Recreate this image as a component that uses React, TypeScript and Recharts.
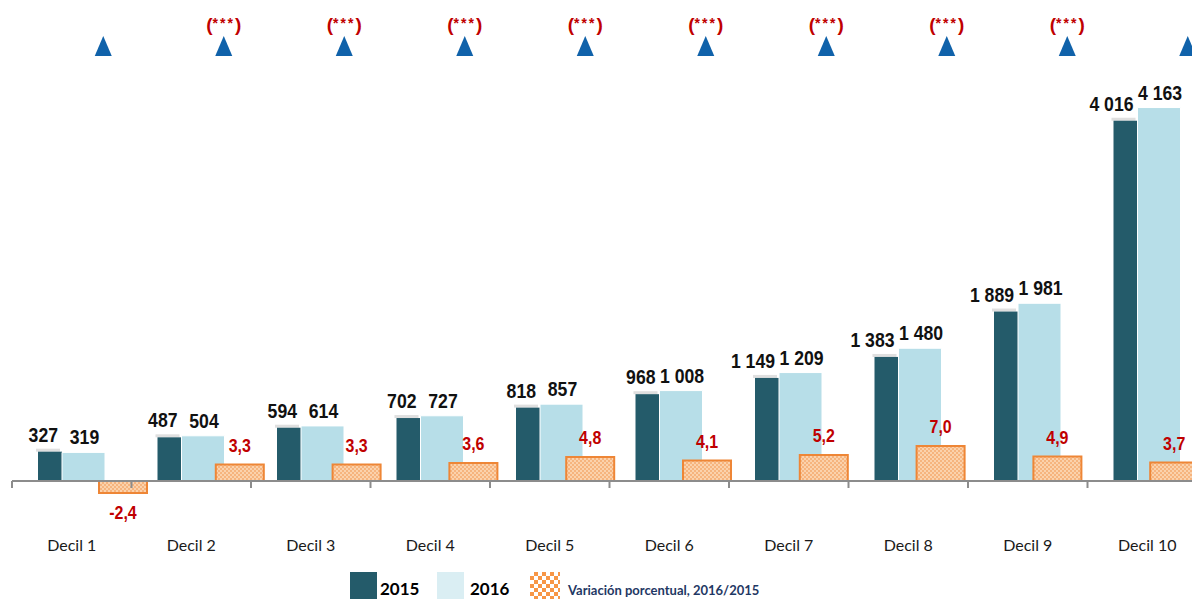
import {
  Bar,
  ComposedChart,
  LabelList,
  Legend,
  ReferenceLine,
  XAxis,
  YAxis,
} from "recharts";

const deciles = [
  "Decil 1",
  "Decil 2",
  "Decil 3",
  "Decil 4",
  "Decil 5",
  "Decil 6",
  "Decil 7",
  "Decil 8",
  "Decil 9",
  "Decil 10",
];
const values2015 = [327, 487, 594, 702, 818, 968, 1149, 1383, 1889, 4016];
const values2016 = [319, 504, 614, 727, 857, 1008, 1209, 1480, 1981, 4163];
const variation = [-2.4, 3.3, 3.3, 3.6, 4.8, 4.1, 5.2, 7.0, 4.9, 3.7];
const significance = ["", "(***)", "(***)", "(***)", "(***)", "(***)", "(***)", "(***)", "(***)", ""];

const data = deciles.map((decil, i) => ({
  decil,
  y2015: values2015[i],
  y2016: values2016[i],
  variacion: variation[i],
}));

const DARK = "#245B6A";
const LIGHT = "#B7DEE8";
const RED = "#C00000";
const SANS = "'Liberation Sans', Arial, sans-serif";
const CALIBRI = "Lato, 'Open Sans', sans-serif";

const fmtInt = (v: number) => String(v).replace(/\B(?=(\d{3})+(?!\d))/g, " ");
const fmtPct = (v: number) => v.toFixed(1).replace(".", ",");

const box = (p: any) => p.viewBox ?? p;

// no Arial Narrow here: squeeze Liberation Sans bold horizontally instead
const NarrowText = ({ x, y, anchor, size, fill, children }: any) => (
  <text
    transform={`translate(${x} ${y}) scale(0.84 1)`}
    textAnchor={anchor}
    fill={fill}
    fontFamily={SANS}
    fontWeight={700}
    fontSize={size}
  >
    {children}
  </text>
);

const DarkLabel = (p: any) => {
  const { x, y, width } = box(p);
  return (
    <NarrowText x={x + width - 4} y={y - 10} anchor="end" size={21} fill="#111">
      {fmtInt(Number(p.value))}
    </NarrowText>
  );
};

const LightLabel = (p: any) => {
  const { x, y, width } = box(p);
  return (
    <NarrowText x={x + width / 2 + 1} y={y - 8} anchor="middle" size={21} fill="#111">
      {fmtInt(Number(p.value))}
    </NarrowText>
  );
};

const VarLabel = (p: any) => {
  const { x, y, width, height } = box(p);
  const v = Number(p.value);
  const top = Math.min(y, y + height);
  const bottom = Math.max(y, y + height);
  return (
    <NarrowText x={x + width / 2} y={v < 0 ? bottom + 26 : top - 13} anchor="middle" size={19} fill={RED}>
      {fmtPct(v)}
    </NarrowText>
  );
};

// 2015 bars have a faint 3D top edge in the original
const DarkBar = (p: any) => (
  <g>
    <rect x={p.x - 2} y={p.y - 3} width={p.width} height={3} fill="#c9c9c9" opacity={0.6} />
    <rect x={p.x} y={p.y} width={p.width} height={p.height} fill={DARK} />
  </g>
);

const DecilTick = (props: any) => {
  const { x, y, payload } = props;
  const left = x - (payload.offset ?? 0);
  return (
    <g>
      <line x1={left} x2={left} y1={y - 49} y2={y - 42} stroke="#8c8c8c" strokeWidth={2} />
      <text x={x} y={y + 21} textAnchor="middle" fill="#1a1a1a" fontFamily={CALIBRI} fontSize={16}>
        {payload.value}
      </text>
    </g>
  );
};

const SigTick = (props: any) => {
  const { x, y, payload } = props;
  const sig = significance[deciles.indexOf(payload.value)];
  return (
    <g>
      <polygon points={`${x - 8.5},${y - 24} ${x + 8.5},${y - 24} ${x},${y - 44}`} fill="#1062AA" />
      {sig && (
        <text x={x} y={y - 49} textAnchor="middle" fill={RED} fontFamily={SANS} fontWeight={700}>
          <tspan fontSize={19}>(</tspan>
          <tspan fontSize={14} dy={-3} letterSpacing={2}>
            {sig.slice(1, -1)}
          </tspan>
          <tspan fontSize={19} dy={3}>
            )
          </tspan>
        </text>
      )}
    </g>
  );
};

const legendStyle: Record<string, any> = {
  y2015: { width: 87, swatch: { width: 27, background: DARK }, gap: 3, size: 17, top: 7, color: "#000" },
  y2016: { width: 93, swatch: { width: 27, background: "#DAEEF3" }, gap: 6, size: 17, top: 7, color: "#000" },
  variacion: {
    width: 260,
    swatch: {
      width: 30,
      background: "repeating-conic-gradient(#F79646 0% 25%, #ffffff 0% 50%) 0 0 / 8px 8px",
    },
    gap: 8,
    size: 13,
    top: 11,
    color: "#1F3864",
  },
};

const renderLegend = (props: any) => {
  const items = props.payload ?? [];
  return (
    <div style={{ display: "flex", alignItems: "flex-start" }}>
      {items.map((it: any) => {
        const s = legendStyle[it.dataKey];
        if (!s) return null;
        return (
          <div key={it.dataKey} style={{ display: "flex", alignItems: "flex-start", width: s.width }}>
            <div style={{ height: 27, flex: "none", ...s.swatch }} />
            <span
              style={{
                marginLeft: s.gap,
                marginTop: s.top,
                fontFamily: CALIBRI,
                fontWeight: 700,
                fontSize: s.size,
                lineHeight: 1.2,
                color: s.color,
                whiteSpace: "nowrap",
              }}
            >
              {it.value}
            </span>
          </div>
        );
      })}
    </div>
  );
};

export default function App() {
  return (
    <div style={{ position: "absolute", left: 8, top: 8, width: 1184, height: 591, overflow: "hidden" }}>
      <ComposedChart
        width={1242}
        height={591}
        data={data}
        margin={{ top: 0, right: 2, bottom: 19, left: 4 }}
        barGap={0}
      >
        <defs>
          <pattern id="varFill" width="4" height="4" patternUnits="userSpaceOnUse">
            <rect width="4" height="4" fill="#FBD2AC" />
            <rect width="2" height="2" fill="#F6B47E" />
            <rect x="2" y="2" width="2" height="2" fill="#F6B47E" />
          </pattern>
        </defs>
        <XAxis
          xAxisId="main"
          dataKey="decil"
          orientation="bottom"
          height={50}
          padding={{ left: 0, right: 41 }}
          axisLine={false}
          tickLine={false}
          tickSize={0}
          tickMargin={0}
          interval={0}
          tick={<DecilTick />}
        />
        <XAxis xAxisId="var" dataKey="decil" hide padding={{ left: 53, right: 15 }} />
        <XAxis
          xAxisId="top"
          dataKey="decil"
          orientation="top"
          height={72}
          padding={{ left: 31, right: 0 }}
          axisLine={false}
          tickLine={false}
          tickSize={0}
          tickMargin={0}
          interval={0}
          tick={<SigTick />}
        />
        <YAxis yAxisId="left" hide type="number" domain={[-546, 4470]} allowDataOverflow />
        <YAxis yAxisId="right" hide type="number" domain={[-9.8, 80.2]} allowDataOverflow />
        <ReferenceLine xAxisId="main" yAxisId="left" y={0} stroke="#8c8c8c" strokeWidth={2} />
        <Bar
          xAxisId="main"
          yAxisId="left"
          dataKey="y2015"
          name="2015"
          fill={DARK}
          barSize={24}
          shape={<DarkBar />}
          isAnimationActive={false}
        >
          <LabelList dataKey="y2015" content={<DarkLabel />} />
        </Bar>
        <Bar
          xAxisId="main"
          yAxisId="left"
          dataKey="y2016"
          name="2016"
          fill={LIGHT}
          stroke="#ffffff"
          strokeWidth={1}
          barSize={43}
          isAnimationActive={false}
        >
          <LabelList dataKey="y2016" content={<LightLabel />} />
        </Bar>
        <Bar
          xAxisId="var"
          yAxisId="right"
          dataKey="variacion"
          name="Variación porcentual, 2016/2015"
          fill="url(#varFill)"
          stroke="#EE8636"
          strokeWidth={2}
          barSize={48}
          isAnimationActive={false}
        >
          <LabelList dataKey="variacion" content={<VarLabel />} />
        </Bar>
        <Legend
          layout="horizontal"
          verticalAlign="middle"
          align="center"
          content={renderLegend}
          wrapperStyle={{ top: 564, left: 342, width: 560, height: 40 }}
        />
      </ComposedChart>
    </div>
  );
}
